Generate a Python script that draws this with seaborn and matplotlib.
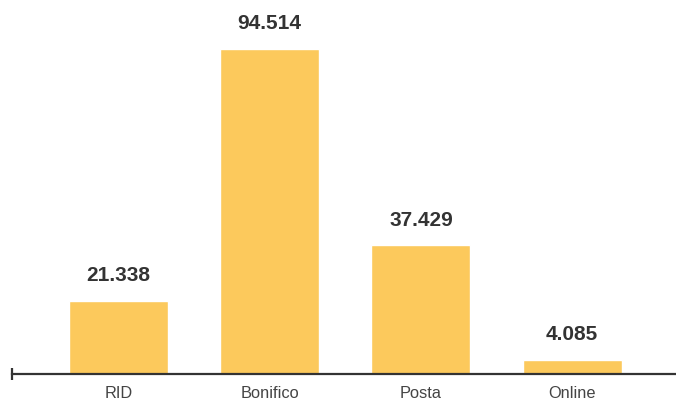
import matplotlib
matplotlib.use("Agg")
import matplotlib.pyplot as plt
import seaborn as sns
import pandas as pd

categories = ["RID", "Bonifico", "Posta", "Online"]
values = [21.338, 94.514, 37.429, 4.085]
labels = ["21.338", "94.514", "37.429", "4.085"]

sns.set_theme(style="white")
plt.rcParams['font.family'] = ['Liberation Sans', 'DejaVu Sans']

df = pd.DataFrame({"cat": categories, "val": values})

fig = plt.figure(figsize=(6.76, 4.03), dpi=100)
ax = fig.add_axes([12/676, 29/403, 1 - 12/676, 1 - 29/403])

sns.barplot(data=df, x="cat", y="val", color="#FCC95C", saturation=1,
            width=0.655, ax=ax, order=categories)

ax.set_xlim(-0.703, 3.686)
ax.set_ylim(0, 108.8)

for i, (v, lab) in enumerate(zip(values, labels)):
    ax.annotate(lab, (i, v), xytext=(0, 11.3), textcoords="offset points",
                ha="center", va="bottom", fontsize=15, fontweight="bold",
                color="#333333")

for s in ["top", "right", "left"]:
    ax.spines[s].set_visible(False)
ax.spines["bottom"].set_color("#333333")
ax.spines["bottom"].set_linewidth(1.6)
ax.set_yticks([])
ax.set_xlabel("")
ax.set_ylabel("")
ax.tick_params(axis="x", which="major", bottom=True, length=0, pad=8.5,
               labelsize=11.8, labelcolor="#444444")
ax.set_xticks([-0.703], minor=True)
ax.tick_params(axis="x", which="minor", bottom=True, direction="inout",
               length=8, width=1.6, color="#333333")

fig.savefig("out.png", dpi=100)
